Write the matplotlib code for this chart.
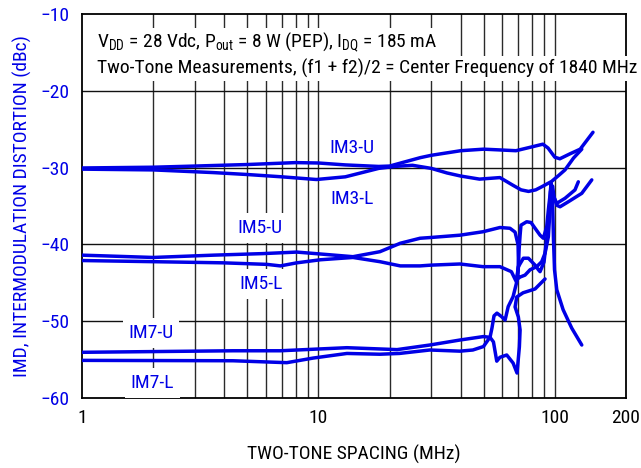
import matplotlib
matplotlib.use('Agg')
import matplotlib.pyplot as plt
from matplotlib import font_manager

# ---------------- data ----------------
im3u_f = [1, 2, 3, 5, 8, 10, 13, 18, 20, 27, 30, 40, 50, 58.6, 68.5, 80, 89, 93.6, 100, 105, 116, 128, 145]
im3u_db = [-30.05, -29.95, -29.8, -29.6, -29.35, -29.4, -29.65, -29.85, -29.8, -28.7, -28.4, -27.8, -27.6,
           -27.7, -27.8, -27.3, -26.95, -27.45, -28.65, -28.85, -28.2, -27.6, -25.4]

im3l_f = [1, 2, 3.6, 5, 7, 9.8, 13, 18, 21, 25, 30, 35, 40, 48, 58.6, 66.5, 72, 77.4, 83, 88, 93, 96.9,
          104, 110.4, 120, 130]
im3l_db = [-30.2, -30.3, -30.65, -30.9, -31.2, -31.55, -31.2, -30.1, -29.85, -29.7, -30.1, -30.7, -31.1,
           -31.5, -31.3, -32.3, -32.9, -33.1, -32.9, -32.5, -32.1, -31.8, -31.0, -30.3, -28.75, -27.6]

im5u_f = [1, 2, 3.6, 5.8, 8.1, 10.2, 14, 18.2, 22.2, 26.9, 29.9, 39.7, 49.7, 58.6, 64.6, 67.9, 69.9, 70.2,
          69.5, 71.3, 74.8, 78.6, 83.8, 88.0, 90.9, 93.9, 95.4, 96.7, 97.8, 99.2, 101.9, 105.2, 114, 130, 143.3]
im5u_db = [-41.4, -41.7, -41.4, -41.2, -41.0, -41.25, -41.6, -40.95, -39.85, -39.2, -39.1, -38.8, -38.35,
           -37.8, -37.9, -38.4, -40.05, -42.7, -44.5, -44.25, -44.0, -43.3, -42.9, -42.25, -41.15, -39.0,
           -35.5, -32.9, -32.4, -33.8, -34.9, -35.1, -34.45, -33.35, -31.6]

im5l_f = [1, 2, 3.95, 6.05, 6.9, 8.1, 10.2, 14, 18.2, 22.2, 26.9, 29.9, 39.7, 49.7, 58.6, 65.5, 68.7, 70.1,
          73.6, 77.3, 82.5, 85.2, 86.6, 90.0, 92.7, 95.0, 95.9, 96.9, 98.3, 101.9, 110.4, 121.7, 125.7]
im5l_db = [-42.1, -42.25, -42.4, -42.6, -42.8, -42.4, -42.0, -41.7, -42.25, -42.8, -42.8, -42.7, -42.55,
           -42.9, -42.9, -43.55, -44.85, -42.9, -41.8, -41.8, -42.7, -43.3, -43.55, -42.3, -38.8, -34.9,
           -33.05, -32.65, -33.7, -34.65, -34.0, -32.9, -31.85]

im7u_f = [1, 4.35, 6.9, 13.2, 21.5, 29.6, 39.7, 49.9, 53.2, 54.2, 55.3, 56.9, 59.5, 61.6, 63.5, 66.6, 69.0,
          70.1, 70.6, 71.3, 71.9, 76.0, 79.3, 82.5, 86.6, 89.4, 92.4, 93.9, 95.4, 96.4, 97.8, 98.7, 99.7,
          101.9, 108.4, 117.9, 130]
im7u_db = [-54.05, -53.85, -53.85, -53.45, -53.7, -53.1, -52.45, -52.0, -52.1, -50.9, -49.3, -48.95, -49.4,
           -49.85, -48.1, -46.8, -44.9, -42.95, -40.7, -38.8, -37.5, -37.05, -37.15, -37.9, -38.8, -39.2,
           -37.7, -35.5, -33.6, -32.0, -34.2, -39.4, -43.3, -45.9, -48.5, -50.9, -53.1]

im7l_f = [1, 4.35, 7.35, 9.5, 13.2, 18.2, 22, 29.6, 39.7, 45, 49.9, 52.3, 53.2, 55.0, 56.8, 58.6, 62.6,
          66.6, 69.2, 70.8, 71.3, 70.1, 67.9, 69.0, 73.4, 82.5, 90.9]
im7l_db = [-55.1, -55.15, -55.4, -54.8, -54.2, -54.3, -54.2, -53.75, -53.9, -53.75, -53.3, -52.4, -52.1,
           -52.7, -55.2, -54.7, -54.4, -55.45, -56.75, -53.35, -51.15, -49.45, -48.15, -46.85, -46.3,
           -45.8, -44.5]

series_names = ['IM3-U', 'IM3-L', 'IM5-U', 'IM5-L', 'IM7-U', 'IM7-L']
x_ticks = [1, 10, 100, 200]
x_tick_labels = ['1', '10', '100', '200']
y_ticks = [-10, -20, -30, -40, -50, -60]

# ---------------- style ----------------
names = {f.name for f in font_manager.fontManager.ttflist}
fam, FS = 'Liberation Sans', 11.6
for cand in ['Liberation Sans Narrow', 'Roboto Condensed', 'Open Sans Condensed']:
    if cand in names:
        fam, FS = cand, 14.0
        break
plt.rcParams['font.family'] = [fam, 'DejaVu Sans']
plt.rcParams['mathtext.default'] = 'regular'

BLUE = '#0000e6'

fig = plt.figure(figsize=(6.41, 4.68), dpi=100)
ax = fig.add_axes([82 / 641, 1 - 398 / 468, (626 - 82) / 641, (398 - 14) / 468])
ax.set_xscale('log')
ax.set_xlim(1, 200)
ax.set_ylim(-60, -10)

# grid
grid_f = [2, 3, 4, 5, 6, 7, 8, 9, 10, 20, 30, 40, 50, 60, 70, 80, 90, 100]
for g in grid_f:
    ax.axvline(g, color='#2a2a2a', lw=1.0, zorder=1)
for g in [-20, -30, -40, -50]:
    ax.axhline(g, color='#111111', lw=1.0, zorder=1)

for f, d in [(im3u_f, im3u_db), (im3l_f, im3l_db), (im5u_f, im5u_db),
             (im5l_f, im5l_db), (im7u_f, im7u_db), (im7l_f, im7l_db)]:
    ax.plot(f, d, color=BLUE, lw=2.5, solid_capstyle='round', solid_joinstyle='round', zorder=5)

# labels for curves
label_pos = [(13.87, -27.45), (13.87, -34.09), (5.66, -37.86), (5.72, -45.16), (1.96, -51.54), (1.98, -58.05)]
for name, (lx, ly) in zip(series_names, label_pos):
    ax.text(lx, ly, name, color=BLUE, fontsize=FS, ha='center', va='center', zorder=4,
            bbox=dict(boxstyle='square,pad=0.3', fc='white', ec='none'))

# header text
ax.text((97 - 82) / 544, 1 - (47 - 14) / 384,
        'V$_{DD}$ = 28 Vdc, P$_{out}$ = 8 W (PEP), I$_{DQ}$ = 185 mA',
        transform=ax.transAxes, fontsize=FS, color='black', ha='left', va='baseline', zorder=4,
        bbox=dict(boxstyle='square,pad=0.15', fc='white', ec='none'))
ax.text((97 - 82) / 544, 1 - (74 - 14) / 384,
        'Two-Tone Measurements, (f1 + f2)/2 = Center Frequency of 1840 MHz',
        transform=ax.transAxes, fontsize=FS, color='black', ha='left', va='baseline', zorder=4,
        bbox=dict(boxstyle='square,pad=0.15', fc='white', ec='none'))

ax.set_xticks(x_ticks)
ax.set_xticklabels(x_tick_labels)
ax.xaxis.set_minor_locator(matplotlib.ticker.NullLocator())
ax.set_yticks(y_ticks)
ax.tick_params(axis='both', length=0, labelsize=FS)
ax.tick_params(axis='x', pad=8, colors='black')
ax.tick_params(axis='y', pad=9, labelcolor=BLUE)

for s in ax.spines.values():
    s.set_linewidth(1.3)
    s.set_color('black')

ax.set_xlabel('TWO-TONE SPACING (MHz)', fontsize=FS, color='black', labelpad=13)
ax.set_ylabel('IMD, INTERMODULATION DISTORTION (dBc)', fontsize=FS, color=BLUE, labelpad=6)

fig.savefig('out.png', dpi=100)
